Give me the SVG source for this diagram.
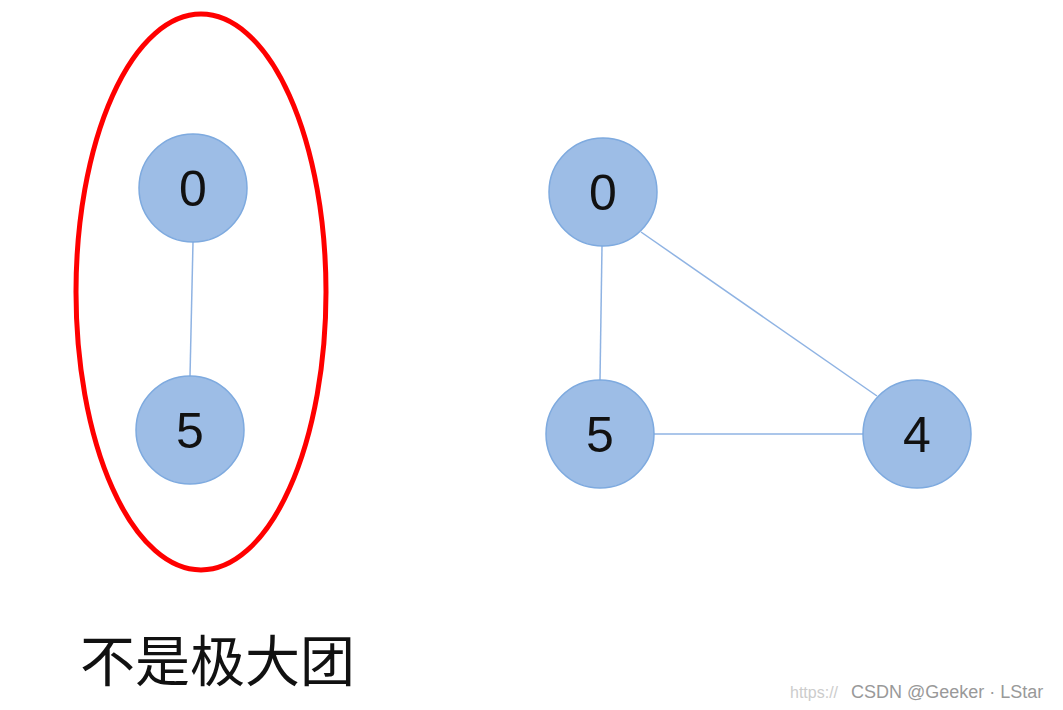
<svg xmlns="http://www.w3.org/2000/svg" width="1063" height="710" viewBox="0 0 1063 710">
<style>
.n{fill:#9dbde6;stroke:#7eaadf;stroke-width:1.5}
.t{font-family:"Liberation Sans",Arial,sans-serif;font-size:50px;fill:#111;text-anchor:middle}
.e{stroke:#8fb3e3;stroke-width:1.5;fill:none}
</style>
<rect width="1063" height="710" fill="#fff"/>
<ellipse cx="201" cy="292" rx="125" ry="278" fill="none" stroke="#f00" stroke-width="5"/>
<g id="edges">
<line class="e" x1="193" y1="242" x2="190" y2="376"/>
<line class="e" x1="602" y1="246" x2="600" y2="380"/>
<line class="e" x1="641" y1="232" x2="877" y2="396"/>
<line class="e" x1="654" y1="434" x2="863" y2="434"/>
</g>
<g id="L0"><circle class="n" cx="193" cy="188" r="54"/><text class="t" x="193" y="206">0</text></g>
<g id="L5"><circle class="n" cx="190" cy="430" r="54"/><text class="t" x="190" y="448">5</text></g>
<g id="R0"><circle class="n" cx="603" cy="192" r="54"/><text class="t" x="603" y="210">0</text></g>
<g id="R5"><circle class="n" cx="600" cy="434" r="54"/><text class="t" x="600" y="452">5</text></g>
<g id="R4"><circle class="n" cx="917" cy="434" r="54"/><text class="t" x="917" y="452">4</text></g>
<text x="80" y="681" font-family="'Noto Sans CJK SC',sans-serif" font-size="55" fill="#111">不是极大团</text>
<text x="790" y="698" font-family="'Liberation Sans',Arial,sans-serif" font-size="16" fill="#ccc">https://</text>
<text x="851" y="698" font-family="'Liberation Sans',Arial,sans-serif" font-size="18" fill="#999">CSDN @Geeker · LStar</text>
</svg>
